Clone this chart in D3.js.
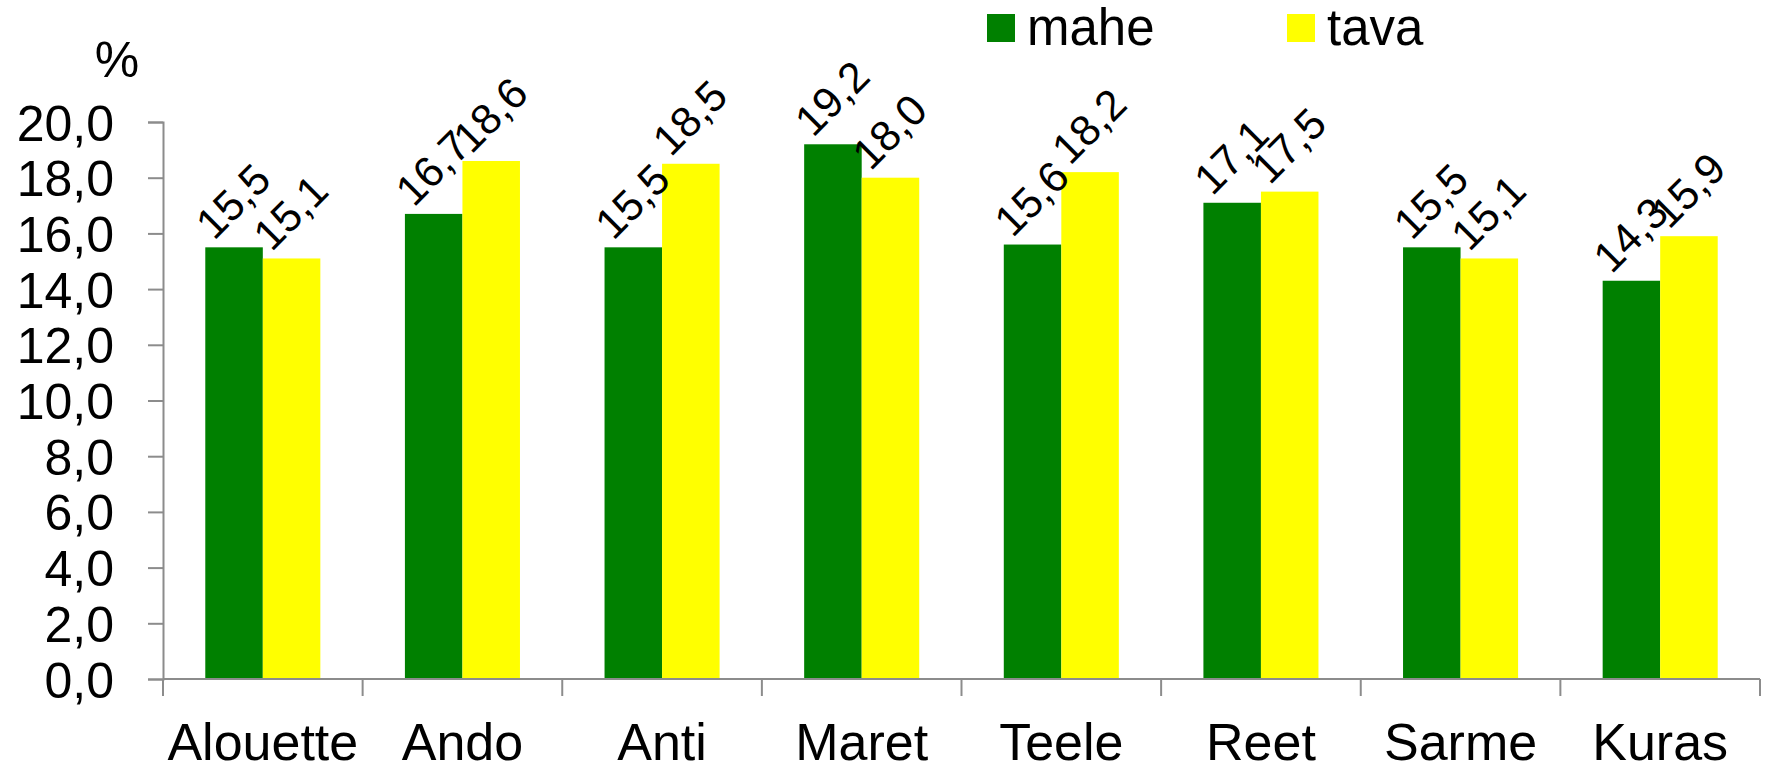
<!DOCTYPE html>
<html>
<head>
<meta charset="utf-8">
<script src="https://cdn.jsdelivr.net/npm/d3@7"></script>
<style>
  body { margin: 0; background: #fff; }
  svg { display: block; font-family: 'Liberation Sans', Arial, sans-serif; }
</style>
</head>
<body>
<svg id="chart" width="1766" height="766"></svg>
<script>
var categories = ['Alouette', 'Ando', 'Anti', 'Maret', 'Teele', 'Reet', 'Sarme', 'Kuras']
var seriesNames = ['mahe', 'tava']
var mahe = [15.5, 16.7, 15.5, 19.2, 15.6, 17.1, 15.5, 14.3]
var tava = [15.1, 18.6, 18.5, 18.0, 18.2, 17.5, 15.1, 15.9]
var yTicks = [0, 2, 4, 6, 8, 10, 12, 14, 16, 18, 20]

var colors = { mahe: '#008000', tava: '#ffff00' }
var fmt = function (v) { return d3.format('.1f')(v).replace('.', ',') }

var svg = d3.select('#chart')
var plotLeft = 163, plotRight = 1760, plotTop = 122, plotBottom = 679

var x = d3.scaleBand().domain(categories).range([plotLeft, plotRight])
var xs = d3.scaleBand().domain(seriesNames).range([0, x.bandwidth()])
  .paddingInner(0).paddingOuter(0.735)
var y = d3.scaleLinear().domain([0, 20]).range([plotBottom, plotTop])

var rows = categories.map(function (c, i) {
  return { cat: c, values: [{ key: 'mahe', v: mahe[i] }, { key: 'tava', v: tava[i] }] }
})

// bars
var groups = svg.append('g').selectAll('g')
  .data(rows)
  .join('g')
  .attr('transform', function (d) { return 'translate(' + x(d.cat) + ',0)' })

groups.selectAll('rect')
  .data(function (d) { return d.values })
  .join('rect')
  .attr('x', function (d) { return xs(d.key) })
  .attr('y', function (d) { return y(d.v) })
  .attr('width', xs.bandwidth())
  .attr('height', function (d) { return y(0) - y(d.v) })
  .attr('fill', function (d) { return colors[d.key] })

// rotated value labels
groups.selectAll('text')
  .data(function (d) { return d.values })
  .join('text')
  .attr('transform', function (d) {
    var cx = xs(d.key) + xs.bandwidth() / 2 - 20
    var cy = y(d.v) - 6
    return 'translate(' + cx + ',' + cy + ') rotate(-45)'
  })
  .attr('font-size', 43)
  .attr('fill', '#000')
  .text(function (d) { return fmt(d.v) })

// y axis
var yAxis = svg.append('g')
  .attr('transform', 'translate(' + plotLeft + ',0)')
  .call(d3.axisLeft(y).tickValues(yTicks).tickFormat(fmt).tickSize(15).tickSizeOuter(15))
yAxis.selectAll('path, line').attr('stroke', '#8c8c8c').attr('stroke-width', 2)
yAxis.selectAll('text').attr('font-size', 50).attr('fill', '#000')
  .attr('x', -49).attr('dy', '0.36em').attr('font-family', 'Liberation Sans, Arial, sans-serif')

// x axis
var xAxis = svg.append('g')
  .attr('transform', 'translate(0,' + plotBottom + ')')
xAxis.append('line')
  .attr('x1', plotLeft).attr('x2', plotRight).attr('y1', 0).attr('y2', 0)
  .attr('stroke', '#8c8c8c').attr('stroke-width', 2)
xAxis.selectAll('line.tick')
  .data(categories.concat(['end']))
  .join('line')
  .attr('class', 'tick')
  .attr('x1', function (d, i) { return i < categories.length ? x(d) : plotRight })
  .attr('x2', function (d, i) { return i < categories.length ? x(d) : plotRight })
  .attr('y1', 0).attr('y2', 17)
  .attr('stroke', '#8c8c8c').attr('stroke-width', 2)
xAxis.selectAll('text')
  .data(categories)
  .join('text')
  .attr('x', function (d) { return x(d) + x.bandwidth() / 2 })
  .attr('y', 81)
  .attr('text-anchor', 'middle')
  .attr('font-size', 52)
  .attr('fill', '#000')
  .text(function (d) { return d })

// unit
svg.append('text')
  .attr('x', 117).attr('y', 77)
  .attr('text-anchor', 'middle')
  .attr('font-size', 50)
  .text('%')

// legend
var legendX = [987, 1287]
var legend = svg.append('g').selectAll('g')
  .data(seriesNames)
  .join('g')
  .attr('transform', function (d, i) { return 'translate(' + legendX[i] + ',14)' })
legend.append('rect')
  .attr('width', 28).attr('height', 28)
  .attr('fill', function (d) { return colors[d] })
legend.append('text')
  .attr('x', 40).attr('y', 31)
  .attr('font-size', 51)
  .text(function (d) { return d })
</script>
</body>
</html>
